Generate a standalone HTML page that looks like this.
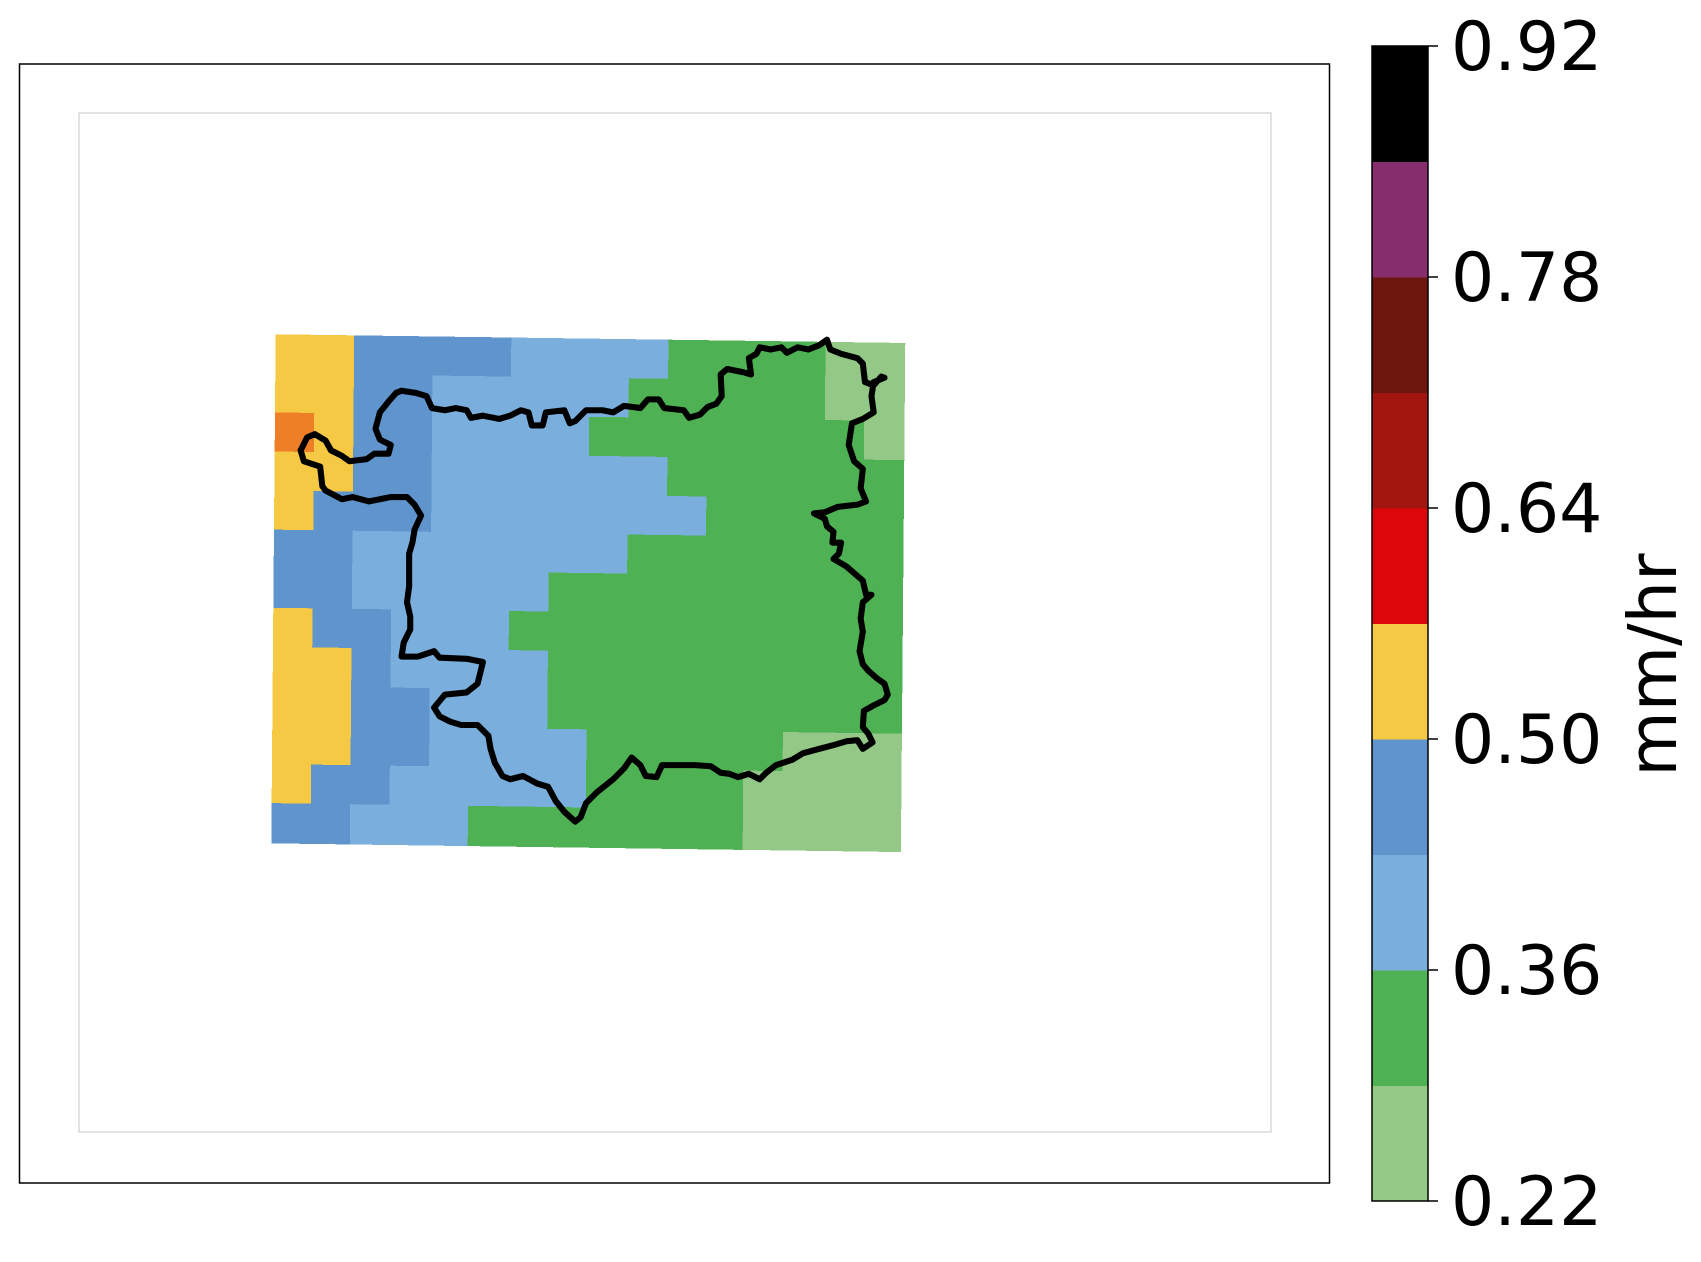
<!DOCTYPE html>
<html><head><meta charset="utf-8"><style>
html,body{margin:0;padding:0;background:#fff;}
svg{display:block;}
</style></head><body>
<svg id="chart" width="1701" height="1262" viewBox="0 0 1701 1262" xmlns="http://www.w3.org/2000/svg">
  <rect x="19.5" y="64" width="1310" height="1119" fill="#fff" stroke="#000" stroke-width="1.5"/>
  <rect x="79" y="113" width="1192" height="1019" fill="none" stroke="#d0d0d0" stroke-width="1.2"/>
  <g id="plot" transform="scale(1.0853)">
    <g id="grid" transform="matrix(36.19,0.5,-0.31,36,254,308)" shape-rendering="crispEdges"></g>
    <polyline id="outline" fill="none" stroke="#000" stroke-width="5.6" stroke-linejoin="round" stroke-linecap="round"/>
  </g>
  <g id="cbar"></g>
  <text transform="translate(1676,665) rotate(-90)" text-anchor="middle" font-family="DejaVu Sans, Liberation Sans, sans-serif" font-size="67">mm/hr</text>
</svg>
<script>
// level colours, bottom to top (0.22 .. 0.92, step 0.07)
const levelColors = ["#93c886","#4eb153","#7aaedc","#5f94cc","#f6c945","#dd060b","#a3150f","#6e170c","#862d6e","#000000"];
const tickLabels = ["0.22","0.36","0.50","0.64","0.78","0.92"];
const tickValues = [0.22,0.36,0.50,0.64,0.78,0.92];
const vmin = 0.22, vmax = 0.92;
// grid values (mm/hr), 13 rows x 16 cols
const rows = [
 [0.53,0.53,0.46,0.46,0.46,0.46,0.40,0.40,0.40,0.40,0.32,0.32,0.32,0.32,0.25,0.25],
 [0.53,0.53,0.46,0.46,0.40,0.40,0.40,0.40,0.40,0.32,0.32,0.32,0.32,0.32,0.25,0.25],
 [0.56,0.53,0.46,0.46,0.40,0.40,0.40,0.40,0.32,0.32,0.32,0.32,0.32,0.32,0.32,0.25],
 [0.53,0.53,0.46,0.46,0.40,0.40,0.40,0.40,0.40,0.40,0.32,0.32,0.32,0.32,0.32,0.32],
 [0.53,0.46,0.46,0.46,0.40,0.40,0.40,0.40,0.40,0.40,0.40,0.32,0.32,0.32,0.32,0.32],
 [0.46,0.46,0.40,0.40,0.40,0.40,0.40,0.40,0.40,0.32,0.32,0.32,0.32,0.32,0.32,0.32],
 [0.46,0.46,0.40,0.40,0.40,0.40,0.40,0.32,0.32,0.32,0.32,0.32,0.32,0.32,0.32,0.32],
 [0.53,0.46,0.46,0.40,0.40,0.40,0.32,0.32,0.32,0.32,0.32,0.32,0.32,0.32,0.32,0.32],
 [0.53,0.53,0.46,0.40,0.40,0.40,0.40,0.32,0.32,0.32,0.32,0.32,0.32,0.32,0.32,0.32],
 [0.53,0.53,0.46,0.46,0.40,0.40,0.40,0.32,0.32,0.32,0.32,0.32,0.32,0.32,0.32,0.32],
 [0.53,0.53,0.46,0.46,0.40,0.40,0.40,0.40,0.32,0.32,0.32,0.32,0.32,0.25,0.25,0.25],
 [0.53,0.46,0.46,0.40,0.40,0.40,0.40,0.40,0.32,0.32,0.32,0.32,0.25,0.25,0.25,0.25],
 [0.46,0.46,0.40,0.40,0.40,0.32,0.32,0.32,0.32,0.32,0.32,0.32,0.25,0.25,0.25,0.25]
];
const outlinePts = [[365,362],[370,360],[383,362],[393,365],[398,376],[410,378],[420,376],[430,378],[434,385],[445,383],[460,386],[470,383],[480,378],[487,380],[490,392],[500,392],[503,380],[520,378],[525,390],[530,388],[540,378],[555,378],[565,380],[575,374],[590,376],[597,368],[607,368],[612,376],[630,378],[635,385],[645,382],[652,375],[660,372],[665,365],[664,345],[670,340],[685,343],[692,345],[690,330],[697,326],[700,320],[710,322],[720,320],[725,325],[735,320],[745,322],[755,318],[762,313],[765,322],[775,326],[790,330],[795,335],[797,352],[805,355],[812,347],[815,348],[805,352],[803,365],[805,380],[795,386],[785,390],[782,410],[787,425],[795,432],[793,450],[798,462],[790,465],[772,467],[760,472],[750,473],[760,478],[762,485],[768,490],[767,500],[775,500],[773,510],[768,515],[780,522],[795,535],[798,548],[803,548],[795,555],[793,570],[795,582],[792,600],[795,612],[800,618],[808,625],[815,630],[818,640],[815,645],[805,650],[796,655],[795,670],[800,676],[804,684],[795,690],[790,682],[780,683],[770,686],[755,690],[740,694],[730,700],[715,705],[706,712],[700,718],[690,713],[680,716],[672,713],[664,712],[655,706],[640,705],[610,705],[605,716],[595,715],[590,705],[582,698],[575,708],[565,718],[550,730],[540,740],[535,753],[530,757],[520,748],[512,738],[505,725],[495,722],[482,715],[470,718],[463,715],[456,703],[452,690],[450,678],[440,668],[425,668],[415,665],[405,660],[400,652],[410,640],[430,638],[440,630],[445,610],[430,607],[405,606],[400,600],[385,605],[370,605],[372,592],[378,580],[378,568],[375,555],[377,540],[377,510],[380,500],[382,488],[388,475],[382,465],[375,458],[360,458],[340,462],[325,458],[315,460],[300,452],[297,448],[295,430],[280,425],[277,415],[283,403],[290,400],[300,406],[305,415],[315,420],[322,425],[338,423],[345,418],[358,418],[360,410],[350,405],[346,395],[350,380],[358,370],[365,362]];

const NS = "http://www.w3.org/2000/svg";
function colorFor(v){
  if (v > 0.545 && v < 0.57) return "#ef7f27";
  const step = (vmax - vmin) / levelColors.length;
  let i = Math.floor((v - vmin) / step);
  i = Math.max(0, Math.min(levelColors.length - 1, i));
  return levelColors[i];
}
const grid = document.getElementById('grid');
rows.forEach((row, r) => row.forEach((v, c) => {
  const rc = document.createElementNS(NS, 'rect');
  
  
  rc.setAttribute('x', c); rc.setAttribute('y', r);
  rc.setAttribute('width', 1.03); rc.setAttribute('height', 1.03);
  rc.setAttribute('fill', colorFor(v));
  grid.appendChild(rc);
}));
document.getElementById('outline').setAttribute('points', outlinePts.map(p => p.join(',')).join(' '));

// colorbar
const cb = document.getElementById('cbar');
const cbX = 1372, cbW = 56, cbTop = 46, cbBot = 1201;
const yScale = v => cbBot - (v - vmin) / (vmax - vmin) * (cbBot - cbTop);
levelColors.forEach((col, i) => {
  const lo = vmin + i * (vmax - vmin) / levelColors.length;
  const hi = vmin + (i + 1) * (vmax - vmin) / levelColors.length;
  const rc = document.createElementNS(NS, 'rect');
  
  
  rc.setAttribute('x', cbX); rc.setAttribute('y', yScale(hi));
  rc.setAttribute('width', cbW); rc.setAttribute('height', yScale(lo) - yScale(hi) + 0.5);
  rc.setAttribute('fill', col);
  cb.appendChild(rc);
});
const border = document.createElementNS(NS, 'rect');


border.setAttribute('x', cbX); border.setAttribute('y', cbTop);
border.setAttribute('width', cbW); border.setAttribute('height', cbBot - cbTop);
border.setAttribute('fill', 'none'); border.setAttribute('stroke', '#000'); border.setAttribute('stroke-width', 1.5);
cb.appendChild(border);
tickValues.forEach((v, i) => {
  const y = yScale(v);
  const t = document.createElementNS(NS, 'line');
  
  
  t.setAttribute('x1', cbX + cbW); t.setAttribute('x2', cbX + cbW + 10);
  t.setAttribute('y1', y); t.setAttribute('y2', y);
  t.setAttribute('stroke', '#000'); t.setAttribute('stroke-width', 1.5);
  cb.appendChild(t);
  const tx = document.createElementNS(NS, 'text');
  
  
  tx.setAttribute('x', cbX + cbW + 23); tx.setAttribute('y', y + 24);
  tx.setAttribute('font-family', 'DejaVu Sans, Liberation Sans, sans-serif');
  tx.setAttribute('font-size', '68');
  tx.textContent = tickLabels[i];
  cb.appendChild(tx);
});
</script>
</body></html>
